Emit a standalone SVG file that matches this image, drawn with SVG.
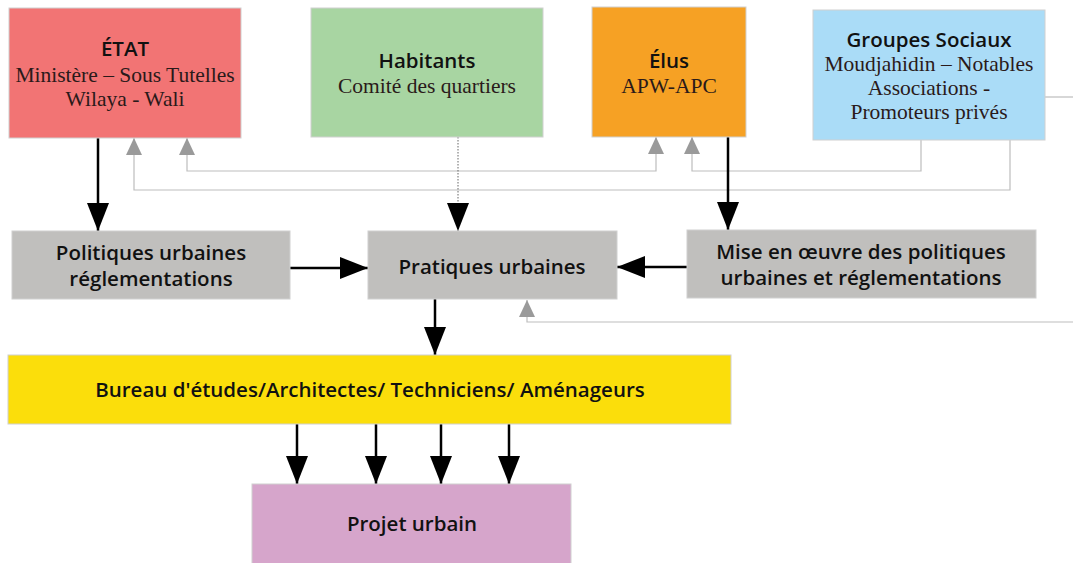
<svg xmlns="http://www.w3.org/2000/svg" width="1073" height="563" viewBox="0 0 1073 563">
<style>
.box{stroke:#d0d0d0;stroke-width:1}
.t{font-family:"Open Sans","Liberation Sans",sans-serif;font-weight:600;font-size:20.5px;fill:#111;text-anchor:middle}
.s{font-family:"Liberation Serif",serif;font-size:21.5px;fill:#2a1a1a;text-anchor:middle}
.blk{stroke:#000;stroke-width:2.5;fill:none}
.gry{stroke:#bdbdbd;stroke-width:1.2;fill:none}
</style>
<defs>
<marker id="ab" markerUnits="userSpaceOnUse" markerWidth="28" markerHeight="22" refX="28" refY="11" orient="auto"><path d="M0,0 L28,11 L0,22 z" fill="#000"/></marker>
<marker id="ag" markerUnits="userSpaceOnUse" markerWidth="17" markerHeight="16" refX="17" refY="8" orient="auto-start-reverse"><path d="M0,0 L17,8 L0,16 z" fill="#9a9a9a"/></marker>
</defs>
<rect width="1073" height="563" fill="#fff"/>
<g id="connectors">
<path class="gry" d="M1010,140 V190 H134 V138" marker-end="url(#ag)"/>
<path class="gry" d="M921,140 V171 H692 V137" marker-end="url(#ag)"/>
<path class="gry" d="M187,138 V171 H656 V137" marker-start="url(#ag)" marker-end="url(#ag)"/>
<path class="gry" d="M1073,97 H1045"/>
<path class="gry" d="M1073,322 H527 V300" marker-end="url(#ag)"/>
<path class="blk" d="M98,138 V231" marker-end="url(#ab)"/>
<path d="M458,137 V231" stroke="#666" stroke-width="1" stroke-dasharray="1.5 1.5" fill="none" marker-end="url(#ab)"/>
<path class="blk" d="M728,137 V230" marker-end="url(#ab)"/>
<path class="blk" d="M290,268 H368" marker-end="url(#ab)"/>
<path class="blk" d="M687,267 H617" marker-end="url(#ab)"/>
<path class="blk" d="M435,299 V355" marker-end="url(#ab)"/>
<path class="blk" d="M297,424 V484" marker-end="url(#ab)"/>
<path class="blk" d="M376,424 V484" marker-end="url(#ab)"/>
<path class="blk" d="M441,424 V484" marker-end="url(#ab)"/>
<path class="blk" d="M509,424 V484" marker-end="url(#ab)"/>
</g>
<g id="etat">
<rect class="box" x="9" y="8" width="232" height="130" fill="#f27474"/>
<text class="t" x="125" y="56">ÉTAT</text>
<text class="s" x="125" y="82">Ministère – Sous Tutelles</text>
<text class="s" x="125" y="106">Wilaya - Wali</text>
</g>
<g id="habitants">
<rect class="box" x="311" y="8" width="232" height="129" fill="#a8d5a2"/>
<text class="t" x="427" y="68">Habitants</text>
<text class="s" x="427" y="93">Comité des quartiers</text>
</g>
<g id="elus">
<rect class="box" x="592" y="7" width="154" height="130" fill="#f6a124"/>
<text class="t" x="669" y="68">Élus</text>
<text class="s" x="669" y="93">APW-APC</text>
</g>
<g id="groupes">
<rect class="box" x="813" y="10" width="232" height="130" fill="#aadcf7" stroke="#9ab"/>
<text class="t" x="929" y="47">Groupes Sociaux</text>
<text class="s" x="929" y="71">Moudjahidin – Notables</text>
<text class="s" x="929" y="95">Associations -</text>
<text class="s" x="929" y="119">Promoteurs privés</text>
</g>
<g id="politiques">
<rect class="box" x="12" y="231" width="278" height="68" fill="#c0bfbd"/>
<text class="t" x="151" y="260">Politiques urbaines</text>
<text class="t" x="151" y="286">réglementations</text>
</g>
<g id="pratiques">
<rect class="box" x="368" y="231" width="249" height="68" fill="#c0bfbd"/>
<text class="t" x="492" y="274">Pratiques urbaines</text>
</g>
<g id="mise">
<rect class="box" x="687" y="230" width="349" height="68" fill="#c0bfbd"/>
<text class="t" x="861" y="259">Mise en œuvre des politiques</text>
<text class="t" x="861" y="285">urbaines et réglementations</text>
</g>
<g id="bureau">
<rect class="box" x="8" y="355" width="723" height="69" fill="#fbde0b"/>
<text class="t" x="370" y="397">Bureau d'études/Architectes/ Techniciens/ Aménageurs</text>
</g>
<g id="projet">
<rect class="box" x="252" y="484" width="319" height="82" fill="#d6a5cb"/>
<text class="t" x="412" y="531">Projet urbain</text>
</g>
</svg>
